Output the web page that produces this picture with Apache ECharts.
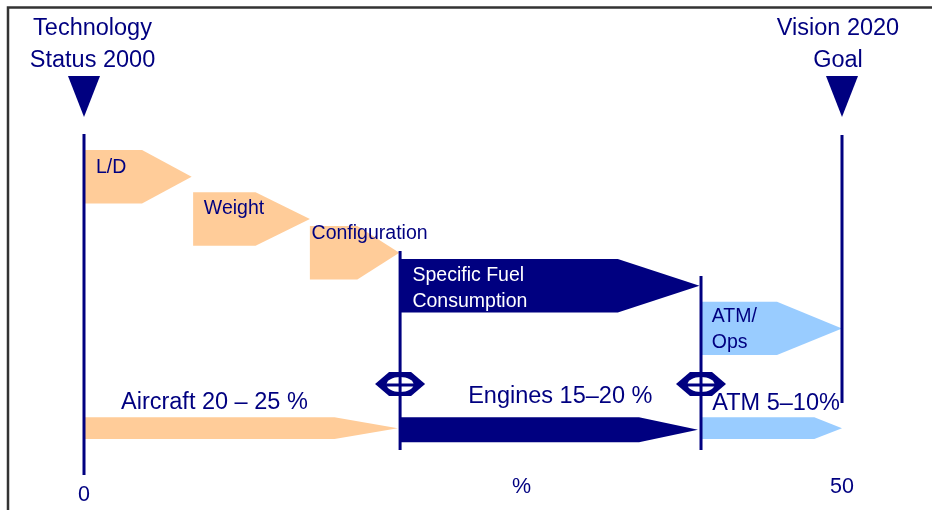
<!DOCTYPE html>
<html>
<head>
<meta charset="utf-8">
<script src="https://cdn.jsdelivr.net/npm/echarts@6/dist/echarts.min.js"></script>
<style>
html,body{margin:0;padding:0;background:#ffffff;}
#chart{width:932px;height:510px;}
</style>
</head>
<body>
<div id="chart"></div>
<script>
// ---------------- DATA (percent of fuel-burn reduction, 0..50) ----------------
const contributorNames = ['L/D', 'Weight', 'Configuration', 'Specific Fuel\nConsumption', 'ATM/\nOps'];
const contributorStart = [0, 7.2, 14.9, 20.9, 40.7];
const contributorEnd   = [7.1, 14.9, 20.8, 40.6, 50];

const groupNames = ['Aircraft 20 – 25 %', 'Engines 15–20 %', 'ATM 5–10%'];
const groupStart = [0, 20.9, 40.7];
const groupEnd   = [20.7, 40.5, 50];

const milestoneNames = ['Technology\nStatus 2000', 'Vision 2020\nGoal'];
const milestoneValue = [0, 50];

const boundaryValue = [20.85, 40.7];

const axisTicks = [0, 50];
const axisUnit = '%';

// ---------------- STYLE / LAYOUT (vertical lanes, sizes, colours) ----------------
const NAVY = '#000080', PEACH = '#FFCC99', SKY = '#99CCFF';
const FONT = '"Liberation Sans", Arial, Helvetica, sans-serif';

const contribColor = [PEACH, PEACH, PEACH, NAVY, SKY];
const contribText  = [NAVY, NAVY, NAVY, '#ffffff', NAVY];
const contribTop   = [150, 192.3, 226, 259, 301.7];   // lane top (vertical layout units)
const contribH     = 53.4;
const contribHead  = [49.6, 54.3, 42, 81.7, 65];      // arrow-head length, px
const contribLblDx = [12, 10.7, 1.7, 11.6, 10.7];
const contribLblDy = [17.9, 16.6, 7.8, 16.5, 15.3];   // middle of first text line below lane top
const contribFont  = 19.5, contribLH = 25.8;

const groupColor = [PEACH, NAVY, SKY];
const groupTop   = [417.3, 417.3, 417.3];
const groupH     = [21.7, 25, 21.7];
const groupHead  = [63.3, 59, 27.7];
const groupLblDx = [37, 67.3, 11.3];
const groupLblMid = [403, 396.7, 403.3];
const bigFont = 23.5;

const msTriTop = 76, msTriH = 41, msTriHalfW = 16;
const msLineTop = [134, 135], msLineBottom = [475, 403];
const msLblDx = [8.5, -4];
const msLblFirstMid = 28.4, msLblLH = 32;

const bdLineTop = [251, 276], bdLineBottom = 450, bdMarkY = 384;

const Y_MAX = 475;

// ---------------- CHART ----------------
const chart = echarts.init(document.getElementById('chart'), null, {renderer: 'canvas'});

function arrowPts(x0, x1, top, h, head) {
  const yc = top + h / 2;
  const xs = Math.max(x0, x1 - head);
  return [[x0, top], [xs, top], [x1, yc], [xs, top + h], [x0, top + h]];
}

const option = {
  animation: false,
  backgroundColor: '#ffffff',
  grid: {left: 84, right: 90, top: 0, bottom: 510 - Y_MAX, containLabel: false, outerBoundsMode: 'none'},
  xAxis: {
    type: 'value', min: 0, max: 50, interval: 50,
    axisLine: {show: false}, axisTick: {show: false}, splitLine: {show: false},
    axisLabel: {
      margin: 2, color: NAVY, fontSize: 21.5, fontFamily: FONT,
      formatter: v => axisTicks.indexOf(v) < 0 ? '' : (v === 0 ? '{low|' + v + '}' : '{n|' + v + '}'),
      rich: {
        low: {fontSize: 21.5, fontFamily: FONT, color: NAVY, lineHeight: 37},
        n: {fontSize: 21.5, fontFamily: FONT, color: NAVY, lineHeight: 21}
      }
    },
    name: axisUnit, nameLocation: 'middle', nameGap: 1.5, nameMoveOverlap: false,
    nameTextStyle: {color: NAVY, fontSize: 21.5, fontFamily: FONT, padding: [0, 0, 0, 117], lineHeight: 21}
  },
  yAxis: {type: 'value', inverse: true, min: 0, max: Y_MAX, show: false},
  graphic: [{
    type: 'polyline', silent: true,
    shape: {points: [[8, 510], [8, 7.5], [932, 7.5]]},
    style: {stroke: '#333333', lineWidth: 2.5, fill: null}
  }],
  series: [
    {
      type: 'custom', name: 'contributors', clip: false,
      data: contributorNames.map((n, i) => [contributorStart[i], contributorEnd[i], i]),
      renderItem: (params, api) => {
        const i = api.value(2);
        const top = contribTop[i];
        const p0 = api.coord([api.value(0), top]);
        const p1 = api.coord([api.value(1), top]);
        const h = api.size([0, contribH])[1];
        return {
          type: 'group',
          children: [
            {type: 'polygon', shape: {points: arrowPts(p0[0], p1[0], p0[1], h, contribHead[i])},
             style: {fill: contribColor[i]}},
            {type: 'text', style: {
              text: contributorNames[i], x: p0[0] + contribLblDx[i],
              y: p0[1] + contribLblDy[i] - contribLH / 2,
              fill: contribText[i], fontSize: contribFont, fontFamily: FONT,
              lineHeight: contribLH, align: 'left', verticalAlign: 'top'
            }}
          ]
        };
      }
    },
    {
      type: 'custom', name: 'groups', clip: false,
      data: groupNames.map((n, i) => [groupStart[i], groupEnd[i], i]),
      renderItem: (params, api) => {
        const i = api.value(2);
        const p0 = api.coord([api.value(0), groupTop[i]]);
        const p1 = api.coord([api.value(1), groupTop[i]]);
        const h = api.size([0, groupH[i]])[1];
        const mid = api.coord([0, groupLblMid[i]])[1];
        return {
          type: 'group',
          children: [
            {type: 'polygon', shape: {points: arrowPts(p0[0], p1[0], p0[1], h, groupHead[i])},
             style: {fill: groupColor[i]}},
            {type: 'text', style: {
              text: groupNames[i], x: p0[0] + groupLblDx[i], y: mid,
              fill: NAVY, fontSize: bigFont, fontFamily: FONT, align: 'left', verticalAlign: 'middle'
            }}
          ]
        };
      }
    },
    {
      type: 'custom', name: 'milestones', clip: false,
      data: milestoneValue.map((v, i) => [v, i]),
      renderItem: (params, api) => {
        const i = api.value(1);
        const pt = api.coord([api.value(0), msTriTop]);
        const lt = api.coord([api.value(0), msLineTop[i]]);
        const lb = api.coord([api.value(0), msLineBottom[i]]);
        const x = pt[0];
        return {
          type: 'group',
          children: [
            {type: 'polygon', shape: {points: [[x - msTriHalfW, pt[1]], [x + msTriHalfW, pt[1]], [x, pt[1] + msTriH]]},
             style: {fill: NAVY}},
            {type: 'line', shape: {x1: x, y1: lt[1], x2: x, y2: lb[1]}, style: {stroke: NAVY, lineWidth: 3}},
            {type: 'text', style: {
              text: milestoneNames[i], x: x + msLblDx[i], y: msLblFirstMid - msLblLH / 2,
              fill: NAVY, fontSize: bigFont, fontFamily: FONT, lineHeight: msLblLH,
              align: 'center', verticalAlign: 'top'
            }}
          ]
        };
      }
    },
    {
      type: 'custom', name: 'boundaries', clip: false,
      data: boundaryValue.map((v, i) => [v, i]),
      renderItem: (params, api) => {
        const i = api.value(1);
        const lt = api.coord([api.value(0), bdLineTop[i]]);
        const lb = api.coord([api.value(0), bdLineBottom]);
        const m = api.coord([api.value(0), bdMarkY]);
        const x = m[0], y = m[1];
        return {
          type: 'group',
          children: [
            {type: 'line', shape: {x1: x, y1: lt[1], x2: x, y2: lb[1]}, style: {stroke: NAVY, lineWidth: 3}},
            {type: 'polygon', shape: {points: [[x - 25, y], [x - 11, y - 12], [x + 11, y - 12], [x + 25, y], [x + 11, y + 12], [x - 11, y + 12]]},
             style: {fill: NAVY}},
            {type: 'ellipse', shape: {cx: x, cy: y + 0.5, rx: 13.5, ry: 7.5}, style: {fill: '#ffffff'}},
            {type: 'line', shape: {x1: x - 14, y1: y + 1, x2: x + 14, y2: y + 1}, style: {stroke: NAVY, lineWidth: 3}},
            {type: 'line', shape: {x1: x, y1: y - 12, x2: x, y2: y + 12}, style: {stroke: NAVY, lineWidth: 3}}
          ]
        };
      }
    }
  ]
};
chart.setOption(option);
</script>
</body>
</html>
